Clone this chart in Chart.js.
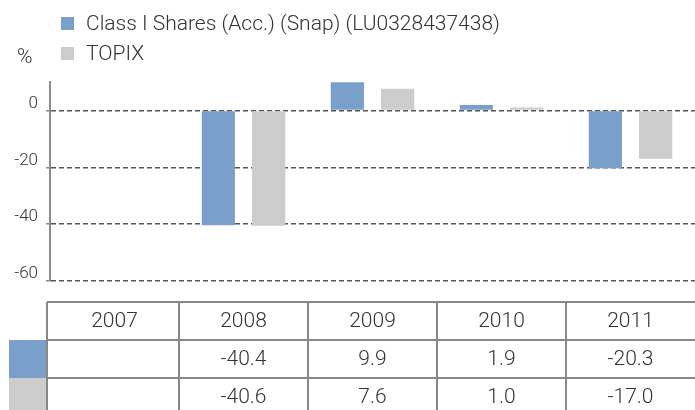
<!DOCTYPE html>
<html lang="en">
<head>
    <meta charset="UTF-8">
    <title>Class I Shares vs TOPIX</title>
    <script src="https://cdn.jsdelivr.net/npm/chart.js"></script>
    <style>
        html, body { margin: 0; padding: 0; background: #fff; }
        #wrap { width: 695px; height: 410px; position: relative; }
    </style>
</head>
<body>
    <div id="wrap"><canvas id="perfChart" width="695" height="410"></canvas></div>

    <script>
        // data
        const years = ['2007', '2008', '2009', '2010', '2011'];
        const fundLabel = 'Class I Shares (Acc.) (Snap) (LU0328437438)';
        const fundValues = [null, -40.4, 9.9, 1.9, -20.3];
        const indexLabel = 'TOPIX';
        const indexValues = [null, -40.6, 7.6, 1.0, -17.0];
        const yTicks = [0, -20, -40, -60];

        const fundColor = '#7a9fcb';
        const indexColor = '#cccccc';
        const textColor = '#333333';
        const fontFamily = 'Roboto, "Liberation Sans", Arial, sans-serif';

        function fmt(v) {
            return v === null ? '' : v.toFixed(1);
        }

        // legend, % label and the data table underneath
        const extras = {
            id: 'extras',
            afterDraw(chart) {
                const ctx = chart.ctx;
                const xs = chart.scales.x;
                const sets = chart.data.datasets;
                ctx.save();

                // legend
                ctx.font = '300 21px ' + fontFamily;
                ctx.textBaseline = 'middle';
                ctx.textAlign = 'left';
                sets.forEach((ds, i) => {
                    const y = 24 + i * 30;
                    ctx.fillStyle = ds.backgroundColor;
                    ctx.fillRect(61, y - 7, 13, 13);
                    ctx.fillStyle = textColor;
                    ctx.fillText(ds.label, 86, y + 1);
                });
                ctx.fillText('%', 17, 58);

                // table
                const half = (xs.getPixelForValue(1) - xs.getPixelForValue(0)) / 2;
                const top = 302, rowH = 38;
                const left = 47, right = chart.width;
                ctx.strokeStyle = '#888888';
                ctx.lineWidth = 2;

                sets.forEach((ds, i) => {
                    ctx.fillStyle = ds.backgroundColor;
                    ctx.fillRect(9, top + rowH * (i + 1), left - 9, rowH);
                });

                ctx.beginPath();
                for (let r = 0; r < 3; r++) {
                    ctx.moveTo(left, top + rowH * r);
                    ctx.lineTo(right, top + rowH * r);
                }
                ctx.moveTo(left, top);
                ctx.lineTo(left, chart.height);
                chart.data.labels.forEach((lab, i) => {
                    if (i === 0) return;
                    const x = Math.round(xs.getPixelForValue(i) - half);
                    ctx.moveTo(x, top);
                    ctx.lineTo(x, chart.height);
                });
                ctx.stroke();

                ctx.fillStyle = textColor;
                ctx.textAlign = 'center';
                ctx.font = '300 21px ' + fontFamily;
                chart.data.labels.forEach((lab, i) => {
                    const cx = xs.getPixelForValue(i);
                    ctx.fillText(lab, cx, top + rowH / 2 + 1);
                    sets.forEach((ds, j) => {
                        ctx.fillText(fmt(ds.data[i]), cx, top + rowH * (j + 1) + rowH / 2 + 1);
                    });
                });
                ctx.restore();
            }
        };

        new Chart(document.getElementById('perfChart'), {
            type: 'bar',
            data: {
                labels: years,
                datasets: [{
                    label: fundLabel,
                    data: fundValues,
                    backgroundColor: fundColor
                }, {
                    label: indexLabel,
                    data: indexValues,
                    backgroundColor: indexColor
                }]
            },
            options: {
                responsive: false,
                animation: false,
                devicePixelRatio: 1,
                categoryPercentage: 0.78,
                barPercentage: 0.66,
                layout: { padding: { top: 82, bottom: 129, left: 0, right: 0 } },
                plugins: {
                    legend: { display: false },
                    tooltip: { enabled: false }
                },
                scales: {
                    x: {
                        display: false,
                        grid: { display: false }
                    },
                    y: {
                        min: -60,
                        max: 10,
                        z: 1,
                        afterBuildTicks(axis) {
                            axis.ticks = yTicks.map(v => ({ value: v }));
                        },
                        afterFit(axis) { axis.width = 50; },
                        border: { display: true, color: '#8a8a8a', width: 2, dash: [5, 3] },
                        grid: {
                            color: '#555555',
                            lineWidth: 1.5,
                            tickLength: 4,
                            tickColor: '#888888',
                            tickBorderDash: [],
                            drawTicks: true
                        },
                        ticks: {
                            color: textColor,
                            font: { family: fontFamily, size: 17, weight: '300' },
                            padding: 8,
                            labelOffset: -7
                        }
                    }
                }
            },
            plugins: [extras]
        });
    </script>
</body>
</html>
